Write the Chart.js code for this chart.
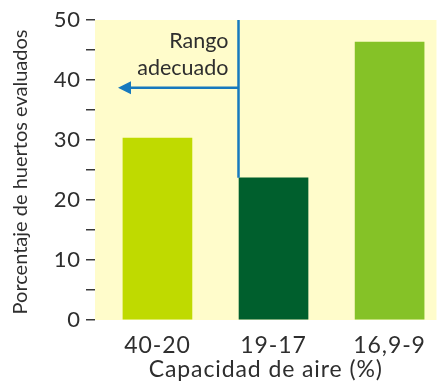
<!DOCTYPE html>
<html>
<head>
<meta charset="utf-8">
<script src="https://cdn.jsdelivr.net/npm/chart.js@4/dist/chart.umd.min.js"></script>
<style>
  html, body { margin: 0; padding: 0; background: #ffffff; }
  #wrap { width: 438px; height: 387px; position: relative; }
</style>
</head>
<body>
<div id="wrap"><canvas id="c"></canvas></div>
<script>
// Air capacity classes and share of orchards in each
const categories = ['40-20', '19-17', '16,9-9'];
const percentages = [30.3, 23.7, 46.3];
const barColors = ['#bfda00', '#005f2d', '#85c227'];
const yTickValues = [0, 5, 10, 15, 20, 25, 30, 35, 40, 45, 50];
const yLabelledTicks = [0, 10, 20, 30, 40, 50];
const yTitle = 'Porcentaje de huertos evaluados';
const xTitle = 'Capacidad de aire (%)';

// "Rango adecuado" marker: arrow level and tip in data units
const rangeArrowLevel = 38.7;
const rangeArrowTip = -0.34;
const rangeLabel = ['Rango', 'adecuado'];

const FONT = 'Lato, "Open Sans", sans-serif';
const TEXT = '#2e2e2e';
const BAR_PX = 69;
const SPACING = '0.9px';

// wider letter spacing for the axis texts drawn by the library
const spacing = {
  id: 'spacing',
  beforeLayout(chart) { chart.ctx.letterSpacing = SPACING; },
  beforeDraw(chart) { chart.ctx.letterSpacing = SPACING; }
};

const plotBackground = {
  id: 'plotBackground',
  beforeDraw(chart) {
    const { ctx, chartArea: a } = chart;
    ctx.save();
    ctx.fillStyle = '#fffccb';
    ctx.fillRect(a.left, a.top, a.right - a.left, a.bottom - a.top);
    ctx.restore();
  }
};

const rangeMarker = {
  id: 'rangeMarker',
  afterDatasetsDraw(chart) {
    const { ctx, chartArea: a, scales: { x, y } } = chart;
    const lineX = Math.round(x.getPixelForValue(1) - BAR_PX / 2) - 0.5;
    const lineBottom = y.getPixelForValue(percentages[1]);
    const arrowY = y.getPixelForValue(rangeArrowLevel);
    const tipX = x.getPixelForValue(rangeArrowTip);
    ctx.save();
    ctx.letterSpacing = '0px';
    ctx.strokeStyle = '#1779be';
    ctx.fillStyle = '#1779be';
    ctx.lineWidth = 2.5;
    ctx.beginPath();
    ctx.moveTo(lineX, a.top);
    ctx.lineTo(lineX, lineBottom);
    ctx.moveTo(lineX, arrowY);
    ctx.lineTo(tipX + 10, arrowY);
    ctx.stroke();
    ctx.beginPath();
    ctx.moveTo(tipX, arrowY);
    ctx.lineTo(tipX + 13, arrowY - 6.5);
    ctx.lineTo(tipX + 13, arrowY + 6.5);
    ctx.closePath();
    ctx.fill();
    ctx.fillStyle = TEXT;
    ctx.font = '21.5px ' + FONT;
    ctx.textAlign = 'right';
    ctx.textBaseline = 'alphabetic';
    ctx.fillText(rangeLabel[0], lineX - 10, a.top + 28);
    ctx.fillText(rangeLabel[1], lineX - 10, a.top + 55);
    ctx.restore();
  },
  afterDraw(chart) {
    // vertical axis title
    const { ctx, chartArea: a } = chart;
    ctx.save();
    ctx.letterSpacing = '0px';
    ctx.fillStyle = TEXT;
    ctx.font = '20px ' + FONT;
    ctx.textAlign = 'center';
    ctx.textBaseline = 'middle';
    ctx.translate(21, (a.top + a.bottom) / 2 + 2);
    ctx.rotate(-Math.PI / 2);
    ctx.fillText(yTitle, 0, 0);
    ctx.restore();
  }
};

new Chart(document.getElementById('c'), {
  type: 'bar',
  data: {
    datasets: [{
      data: percentages.map((v, i) => ({ x: i, y: v })),
      backgroundColor: barColors,
      barThickness: BAR_PX,
      borderWidth: 0
    }]
  },
  options: {
    responsive: true,
    maintainAspectRatio: false,
    animation: false,
    layout: { padding: { top: 20, right: 1, left: 0, bottom: 0 } },
    plugins: { legend: { display: false }, tooltip: { enabled: false } },
    scales: {
      x: {
        type: 'linear',
        offset: false,
        min: -0.538,
        max: 2.404,
        afterBuildTicks(scale) { scale.ticks = categories.map((_, i) => ({ value: i })); },
        afterFit(scale) { scale.height = 67; },
        grid: { display: false, drawTicks: false },
        border: { display: false },
        ticks: {
          callback: (v) => categories[v],
          color: TEXT,
          font: { family: FONT, size: 23 },
          padding: 12,
          maxRotation: 0,
          autoSkip: false
        },
        title: {
          display: true,
          text: xTitle,
          color: TEXT,
          font: { family: FONT, size: 23 },
          padding: { top: 0, bottom: 4 }
        }
      },
      y: {
        min: 0,
        max: 50,
        afterBuildTicks(scale) { scale.ticks = yTickValues.map(v => ({ value: v })); },
        afterFit(scale) { scale.width = 95; },
        grid: { drawOnChartArea: false, drawTicks: true, tickLength: 9, color: '#3a3a3a', lineWidth: 1.5 },
        border: { display: false },
        ticks: {
          callback: (v) => yLabelledTicks.includes(v) ? String(v) : '',
          color: TEXT,
          font: { family: FONT, size: 22 },
          padding: 5,
          autoSkip: false
        }
      }
    }
  },
  plugins: [spacing, plotBackground, rangeMarker]
});
</script>
</body>
</html>
